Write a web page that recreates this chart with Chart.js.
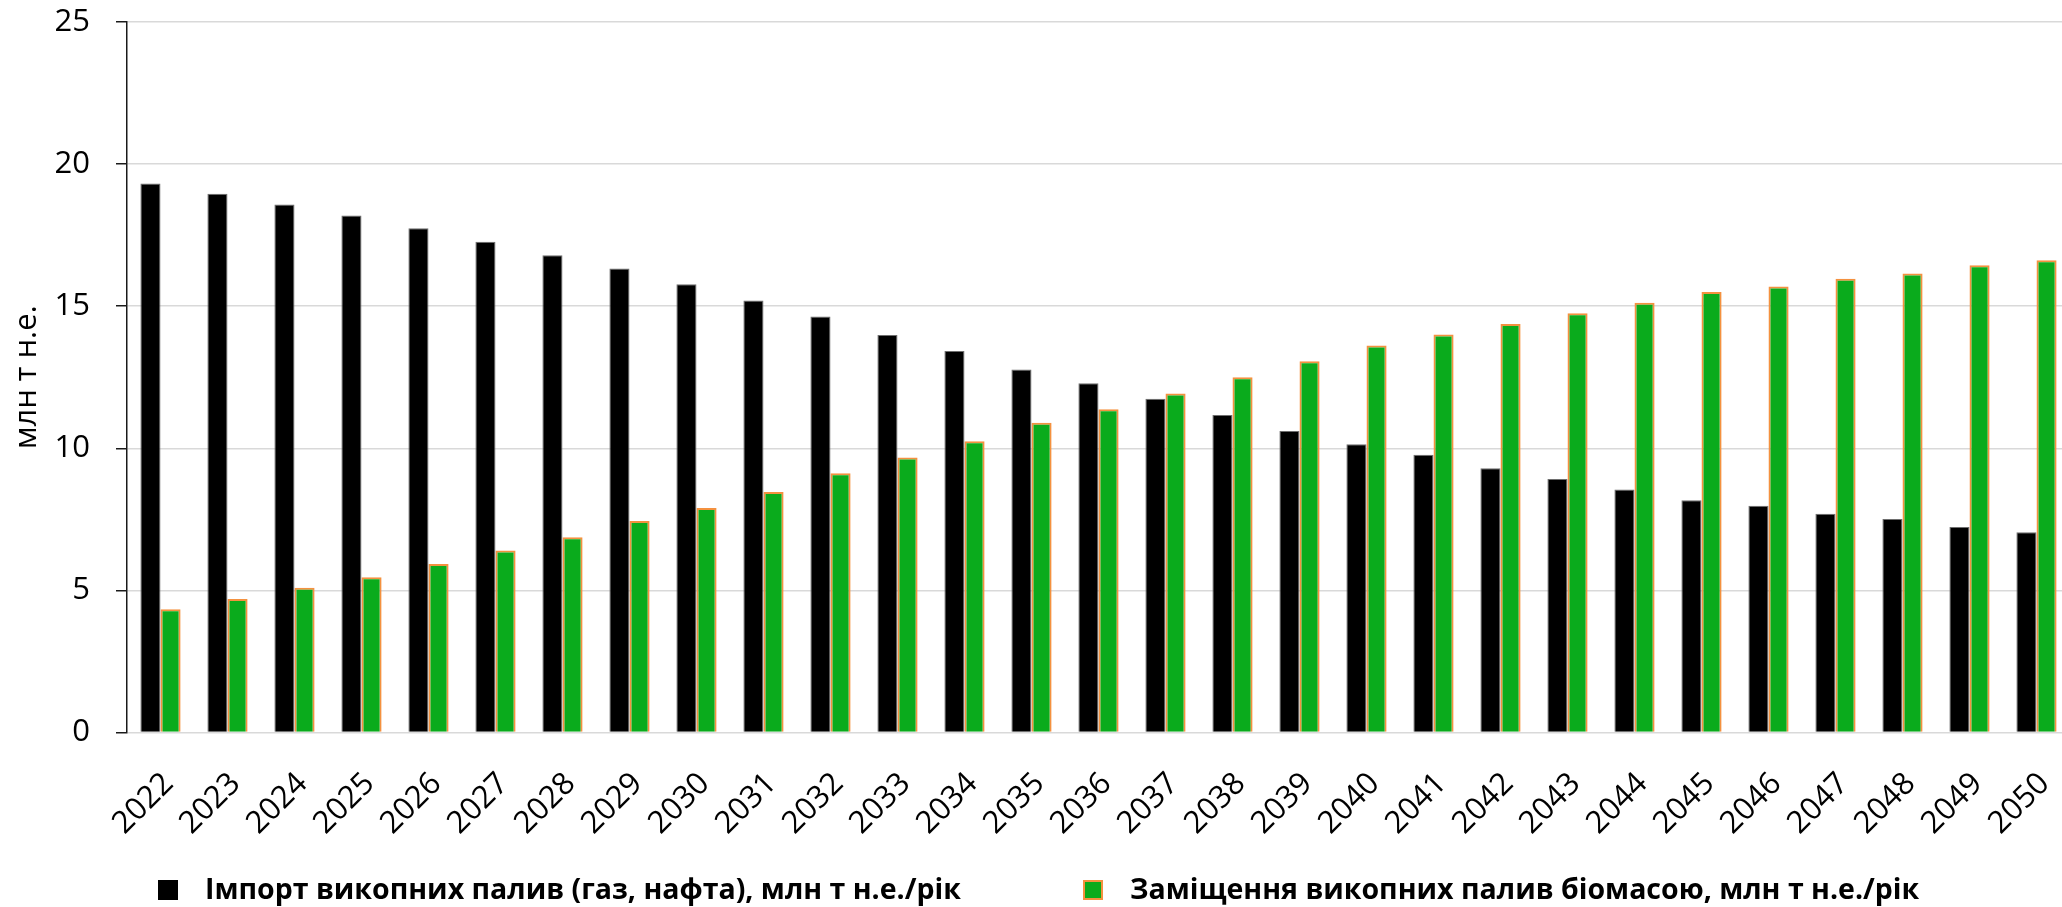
<!DOCTYPE html>
<html lang="uk">
<head>
<meta charset="utf-8">
<title>Імпорт викопних палив і заміщення біомасою</title>
<script src="https://cdn.jsdelivr.net/npm/chart.js@4/dist/chart.umd.min.js"></script>
<style>
  html, body { margin: 0; padding: 0; background: #fff; overflow: hidden; }
  #wrap { position: relative; width: 2070px; height: 907px; }
</style>
</head>
<body>
<div id="wrap"><canvas id="chart"></canvas></div>
<script>
// Years on the category axis
const years = ['2022', '2023', '2024', '2025', '2026', '2027', '2028', '2029', '2030', '2031',
               '2032', '2033', '2034', '2035', '2036', '2037', '2038', '2039', '2040', '2041',
               '2042', '2043', '2044', '2045', '2046', '2047', '2048', '2049', '2050'];

// Fossil fuel imports (gas, oil), Mtoe per year
const importValues = [19.32, 18.96, 18.58, 18.19, 17.74, 17.27, 16.79, 16.33, 15.77, 15.20,
                      14.64, 13.99, 13.42, 12.77, 12.29, 11.74, 11.17, 10.61, 10.14, 9.77,
                      9.30, 8.92, 8.55, 8.17, 7.98, 7.70, 7.51, 7.23, 7.05];

// Fossil fuel replaced by biomass, Mtoe per year
const biomassValues = [4.34, 4.70, 5.09, 5.46, 5.93, 6.40, 6.87, 7.44, 7.90, 8.46,
                       9.12, 9.68, 10.25, 10.90, 11.37, 11.93, 12.50, 13.06, 13.62, 14.00,
                       14.37, 14.75, 15.12, 15.50, 15.69, 15.97, 16.15, 16.44, 16.62];

// Series names
const seriesNames = [
  'Імпорт викопних палив (газ, нафта), млн т н.е./рік',
  'Заміщення викопних палив біомасою, млн т н.е./рік'
];

// Value axis ticks
const yTicks = [0, 5, 10, 15, 20, 25];
const yTitle = 'млн т н.е.';

const FONT = '"Open Sans", "Noto Sans", "DejaVu Sans", sans-serif';

// Single-row legend drawn under the axis labels
const legendRow = {
  id: 'legendRow',
  afterDraw(chart, args, opts) {
    const ctx = chart.ctx;
    ctx.save();
    ctx.font = `bold ${opts.size}px ${FONT}`;
    ctx.textBaseline = 'alphabetic';
    ctx.textAlign = 'left';
    chart.data.datasets.forEach((ds, i) => {
      const x = opts.x[i];
      const y = opts.boxTop;
      ctx.fillStyle = ds.backgroundColor;
      ctx.fillRect(x, y, opts.box, opts.box);
      if (ds.legendBorder) {
        ctx.strokeStyle = ds.legendBorder;
        ctx.lineWidth = 2;
        ctx.strokeRect(x + 1, y + 1, opts.box - 2, opts.box - 2);
      }
      ctx.fillStyle = '#000';
      ctx.fillText(ds.label, x + opts.textGap, opts.baseline);
    });
    ctx.restore();
  }
};

new Chart(document.getElementById('chart'), {
  type: 'bar',
  data: {
    labels: years,
    datasets: [
      {
        label: seriesNames[0],
        data: importValues,
        backgroundColor: '#000000',
        borderColor: '#6e6e6e',
        borderWidth: 1
      },
      {
        label: seriesNames[1],
        data: biomassValues,
        backgroundColor: '#0aab1c',
        borderColor: '#f4913f',
        borderWidth: 2,
        legendBorder: '#f4913f'
      }
    ]
  },
  options: {
    responsive: true,
    maintainAspectRatio: false,
    animation: false,
    layout: { padding: { top: 0, right: 0, bottom: 0, left: 0 } },
    datasets: { bar: { categoryPercentage: 0.6, barPercentage: 1.0 } },
    plugins: {
      legend: { display: false },
      tooltip: { enabled: false },
      legendRow: { x: [158, 1083], box: 20, boxTop: 880, textGap: 47, baseline: 899, size: 28.5 }
    },
    scales: {
      x: {
        grid: { display: false, drawTicks: false },
        border: { display: false },
        ticks: {
          autoSkip: false,
          maxRotation: 45,
          minRotation: 45,
          padding: 33,
          labelOffset: 8,
          color: '#000',
          font: { family: FONT, size: 31 }
        },
        afterFit(scale) {
          scale.height = 907 - 732.5;
          scale.paddingLeft = 0;
          scale.paddingRight = 0;
        }
      },
      y: {
        min: 0,
        max: 25,
        afterBuildTicks(scale) { scale.ticks = yTicks.map(v => ({ value: v })); },
        grid: {
          color: '#d9d9d9',
          lineWidth: 1.5,
          tickLength: 11,
          tickColor: '#1a1a1a',
          tickWidth: 1.5
        },
        border: { display: true, color: '#1a1a1a', width: 1.5 },
        ticks: {
          padding: 26,
          color: '#000',
          font: { family: FONT, size: 31 }
        },
        title: {
          display: true,
          text: yTitle,
          color: '#000',
          padding: { top: 9, bottom: 0 },
          font: { family: FONT, size: 31 }
        },
        afterFit(scale) {
          scale.width = 127;
          scale.paddingTop = 22;
          scale.paddingBottom = 0;
        }
      }
    }
  },
  plugins: [legendRow]
});
</script>
</body>
</html>
